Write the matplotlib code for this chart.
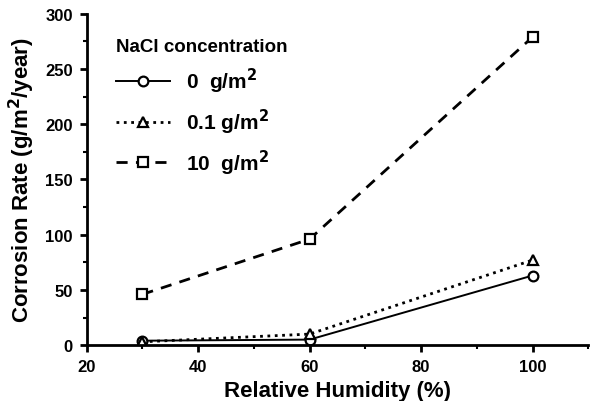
import matplotlib
matplotlib.use("Agg")
import matplotlib.pyplot as plt
from matplotlib.ticker import MultipleLocator

plt.rcParams['font.family'] = ['Liberation Sans', 'DejaVu Sans']
plt.rcParams['font.weight'] = 'bold'

# relative humidity (%) and corrosion rate (g/m^2/year)
humidity = [30, 60, 100]
rate_0 = [4, 5, 63]
rate_01 = [3, 10, 77]
rate_10 = [46, 96, 279]
labels = ['0  g/m$^\\mathbf{2}$', '0.1 g/m$^\\mathbf{2}$', '10  g/m$^\\mathbf{2}$']

fig = plt.figure(figsize=(5.9, 4.02), dpi=100)
ax = fig.add_axes([0.147, 0.139, 0.85, 0.824])

ms = 7
ax.plot(humidity, rate_0, '-', color='black', lw=1.4, marker='o', ms=ms,
        mfc='white', mec='black', mew=1.6, label=labels[0])
ax.plot(humidity, rate_01, ':', color='black', lw=2.0, marker='^', ms=ms,
        mfc='white', mec='black', mew=1.6, label=labels[1])
ax.plot(humidity, rate_10, '--', color='black', lw=2.0, dashes=(4, 3), marker='s', ms=ms,
        mfc='white', mec='black', mew=1.6, label=labels[2])

ax.set_xlim(20, 110)
ax.set_ylim(0, 300)
ax.xaxis.set_major_locator(MultipleLocator(20))
ax.xaxis.set_minor_locator(MultipleLocator(10))
ax.yaxis.set_major_locator(MultipleLocator(50))
ax.yaxis.set_minor_locator(MultipleLocator(25))
ax.spines['top'].set_visible(False)
ax.spines['right'].set_visible(False)
for s in ('left', 'bottom'):
    ax.spines[s].set_linewidth(2)
ax.tick_params(which='major', direction='out', length=5, width=2, labelsize=12, pad=5)
ax.tick_params(which='minor', direction='out', length=3, width=1.5)

ax.set_xlabel('Relative Humidity (%)', fontsize=16, fontweight='bold', labelpad=4)
ax.set_ylabel('Corrosion Rate (g/m$^\\mathbf{2}$/year)', fontsize=16, fontweight='bold', labelpad=6)

leg = ax.legend(title='NaCl concentration', loc='upper left', bbox_to_anchor=(0.02, 0.985),
                frameon=False, fontsize=15, title_fontsize=13.5, handlelength=2.6,
                labelspacing=0.55, alignment='left')
leg.get_title().set_fontweight('bold')

fig.savefig('out.png', dpi=100)
